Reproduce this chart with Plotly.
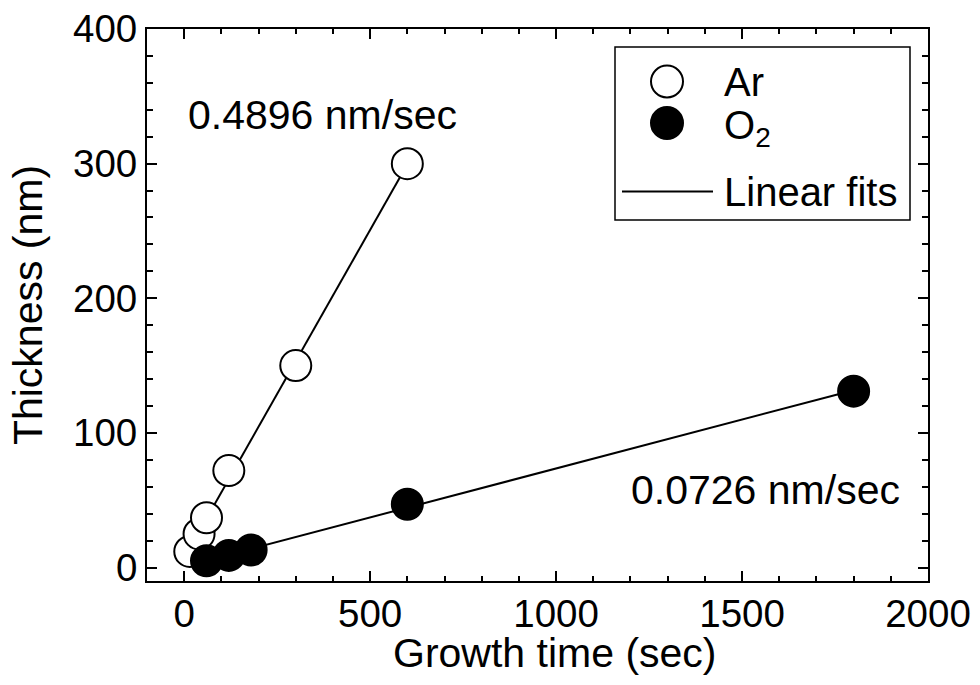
import numpy as np
import plotly.graph_objects as go

# Data
ar_time = [15, 40, 60, 120, 300, 600]
ar_thick = [12, 25, 37, 72, 150, 300]
o2_time = [60, 120, 180, 600, 1800]
o2_thick = [5, 9, 13, 47, 131]

ar_rate_label = "0.4896 nm/sec"
o2_rate_label = "0.0726 nm/sec"
legend_labels = ["Ar", "O<sub>2</sub>", "Linear fits"]
x_title = "Growth time (sec)"
y_title = "Thickness (nm)"

x_ticks = [0, 500, 1000, 1500, 2000]
y_ticks = [0, 100, 200, 300, 400]

FONT = "Liberation Sans, Arial, sans-serif"
W, H = 980, 685
ML, MR, MT, MB = 147, 52, 29, 104
PW, PH = W - ML - MR, H - MT - MB


def px(xp):
    return (xp - ML) / PW


def py(yp):
    return (H - MB - yp) / PH


# linear fits
ar_fit = np.polyfit(ar_time, ar_thick, 1)
o2_fit = np.polyfit(o2_time, o2_thick, 1)
ar_fx = np.array([min(ar_time), max(ar_time)])
o2_fx = np.array([min(o2_time), max(o2_time)])

fig = go.Figure()
fig.add_trace(go.Scatter(x=ar_fx, y=np.polyval(ar_fit, ar_fx), mode="lines",
                         line=dict(color="black", width=2), name="Linear fits",
                         showlegend=False))
fig.add_trace(go.Scatter(x=o2_fx, y=np.polyval(o2_fit, o2_fx), mode="lines",
                         line=dict(color="black", width=2), showlegend=False))
fig.add_trace(go.Scatter(x=ar_time, y=ar_thick, mode="markers", name="Ar",
                         marker=dict(symbol="circle", size=31, color="white",
                                     line=dict(color="black", width=2)),
                         showlegend=False))
fig.add_trace(go.Scatter(x=o2_time, y=o2_thick, mode="markers", name="O<sub>2</sub>",
                         marker=dict(symbol="circle", size=31, color="black",
                                     line=dict(color="black", width=2)),
                         showlegend=False))

fig.add_annotation(x=5, y=336, text=ar_rate_label, showarrow=False,
                   xanchor="left", yanchor="middle", font=dict(size=41, color="black"))
fig.add_annotation(x=1195, y=57.5, text=o2_rate_label, showarrow=False,
                   xanchor="left", yanchor="middle", font=dict(size=41, color="black"))

# x-axis title placed as annotation for exact vertical position
fig.add_annotation(xref="paper", yref="paper", x=px(555), y=py(653), text=x_title,
                   showarrow=False, xanchor="center", yanchor="middle",
                   font=dict(size=41, color="black"))

# Legend box (drawn manually so the symbols keep the full marker size)
fig.add_shape(type="rect", xref="paper", yref="paper",
              x0=px(615), x1=px(910), y0=py(220), y1=py(47),
              line=dict(color="black", width=1.5), fillcolor="white", layer="above")
for cy, fill in [(81.5, "white"), (123, "black")]:
    fig.add_shape(type="circle", xref="paper", yref="paper",
                  xsizemode="pixel", ysizemode="pixel",
                  xanchor=px(667), yanchor=py(cy),
                  x0=-16, x1=16, y0=-16, y1=16,
                  line=dict(color="black", width=2), fillcolor=fill, layer="above")
fig.add_shape(type="line", xref="paper", yref="paper",
              x0=px(622), x1=px(713), y0=py(191.5), y1=py(191.5),
              line=dict(color="black", width=2), layer="above")
for lab, cy in zip(legend_labels, [81.5, 128, 191.5]):
    fig.add_annotation(xref="paper", yref="paper", x=px(722), y=py(cy), text=lab,
                       showarrow=False, xanchor="left", yanchor="middle",
                       font=dict(size=40, color="black"))

axis_common = dict(showgrid=False, zeroline=False, showline=True, linecolor="black",
                   linewidth=2, mirror="allticks", ticks="inside", tickcolor="black",
                   tickwidth=2, ticklen=10, tickfont=dict(size=38.5, color="black"))

fig.update_xaxes(range=[-100, 2000], tickvals=x_ticks, ticklabelstandoff=-2,
                 minor=dict(dtick=100, ticks="inside", ticklen=5, tickwidth=2, tickcolor="black"),
                 **axis_common)
fig.update_yaxes(range=[-10, 400], tickvals=y_ticks,
                 title=dict(text=y_title, font=dict(size=41, color="black"), standoff=18),
                 minor=dict(dtick=20, ticks="inside", ticklen=6, tickwidth=2, tickcolor="black"),
                 **axis_common)

fig.update_layout(
    width=W, height=H,
    margin=dict(l=ML, r=MR, t=MT, b=MB, autoexpand=False),
    paper_bgcolor="white", plot_bgcolor="white",
    font=dict(family=FONT, color="black"),
    showlegend=False,
)

fig.write_html("out.html")
